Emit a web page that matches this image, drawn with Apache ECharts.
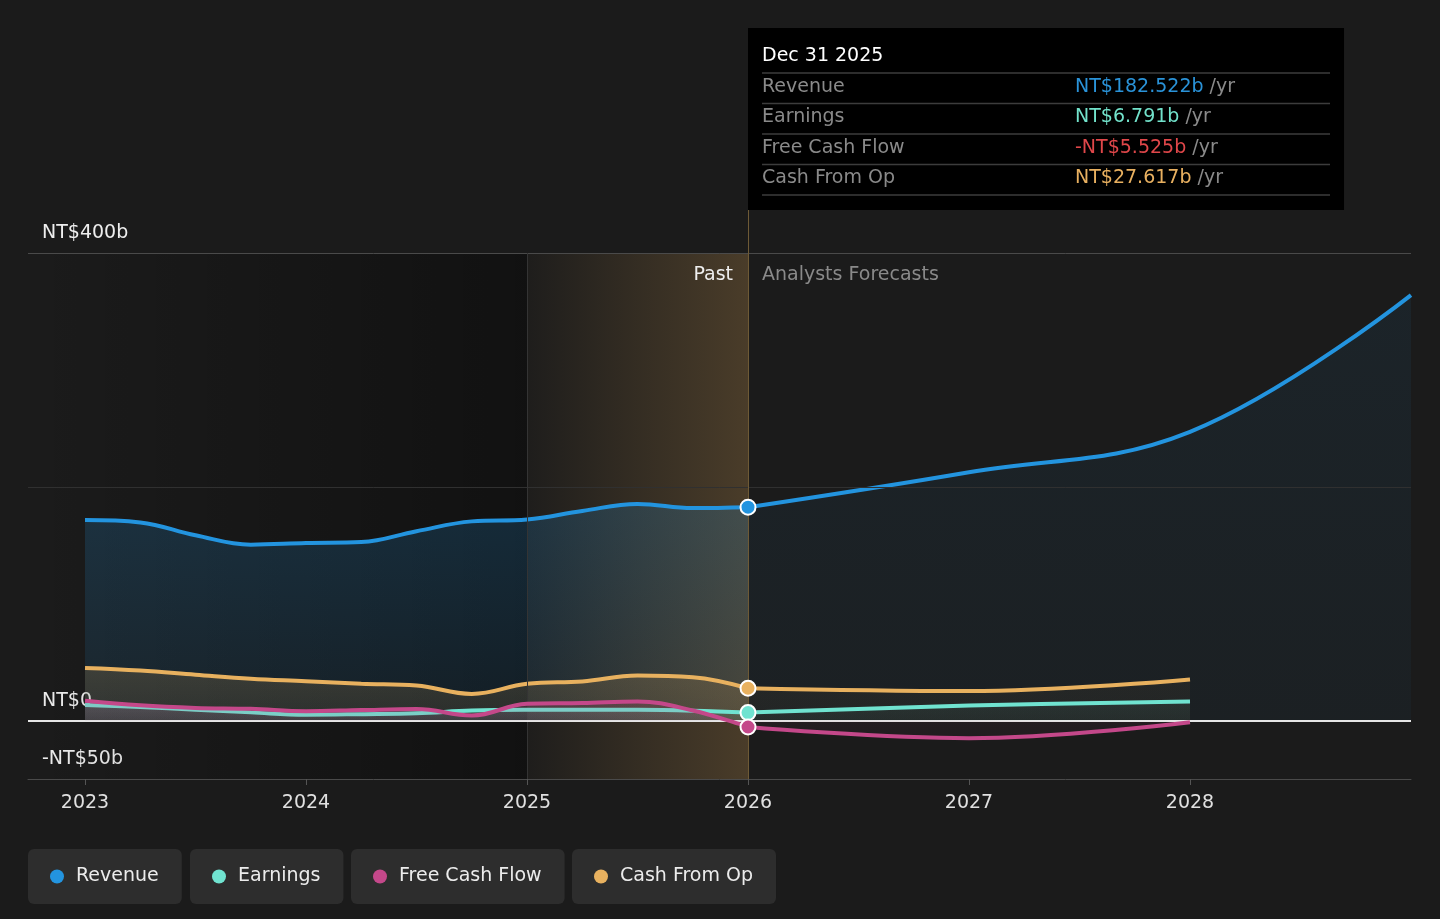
<!DOCTYPE html>
<html>
<head>
<meta charset="utf-8">
<script src="https://cdn.jsdelivr.net/npm/echarts@6/dist/echarts.min.js"></script>
<style>
html,body{margin:0;padding:0;background:#1b1b1b;}
#chart{width:1440px;height:919px;}
</style>
</head>
<body>
<div id="chart"></div>
<script>
// ---------- DATA ----------
const pastYears = [2023, 2023.25, 2023.5, 2023.75, 2024, 2024.25, 2024.5, 2024.75, 2025, 2025.25, 2025.5, 2025.75, 2026];
const revenuePast  = [171.5, 169.5, 158.5, 150.5, 151.9, 152.7, 162, 170.4, 172, 179.3, 185.3, 181.8, 182.522];
const earningsPast = [13.4, 11.5, 9.3, 7, 5, 5.5, 6.3, 8.5, 9.2, 9.3, 9.2, 8.4, 6.791];
const fcfPast      = [17, 13, 10.8, 10, 8, 9, 9.8, 4.3, 14.3, 15, 16.3, 8.6, -5.525];
const cfoPast      = [45, 42.8, 39.2, 35.7, 33.7, 31.5, 30, 22.8, 31.4, 33.5, 38.5, 37, 27.617];

const revenueForecastYears = [2026, 2027, 2028, 2029];
const revenueForecast = [182.522, 212.5, 247, 364];
const forecastYears = [2026, 2027, 2028];
const earningsForecast = [6.791, 12.8, 16.3];
const fcfForecast      = [-5.525, -15.1, -1.5];
const cfoForecast      = [27.617, 25.2, 35.1];

const seriesNames = ['Revenue', 'Earnings', 'Free Cash Flow', 'Cash From Op'];
const xTickYears = [2023, 2024, 2025, 2026, 2027, 2028];
const yTickValues = [-50, 0, 400];
const gridValues = [400, 200];
const xMin = 2022.742, xMax = 2029;
const pastStart = 2025, forecastStart = 2026;
const tooltipDate = 'Dec 31 2025';

// ---------- STYLE ----------
const FONT = 'DejaVu Sans';
const colors = {
  'Revenue': '#2394df',
  'Earnings': '#70e3d0',
  'Free Cash Flow': '#c4488a',
  'Cash From Op': '#e8b15f'
};
const tipValueColors = {
  'Revenue': '#2a93d9',
  'Earnings': '#72e2cb',
  'Free Cash Flow': '#e0474a',
  'Cash From Op': '#e8b060'
};
const rgb = {
  'Revenue': '35,148,223',
  'Earnings': '112,227,208',
  'Free Cash Flow': '196,72,138',
  'Cash From Op': '232,177,95'
};

function zip(xs, ys) { return xs.map((x, i) => [x, ys[i]]); }
function vgrad(c, a1, a2) {
  return new echarts.graphic.LinearGradient(0, 0, 0, 1, [
    { offset: 0, color: 'rgba(' + c + ',' + a1 + ')' },
    { offset: 1, color: 'rgba(' + c + ',' + a2 + ')' }
  ]);
}
function fmt(v) { return (v < 0 ? '-' : '') + 'NT$' + Math.abs(v).toFixed(3) + 'b'; }

const pastData = {
  'Revenue': revenuePast, 'Earnings': earningsPast,
  'Free Cash Flow': fcfPast, 'Cash From Op': cfoPast
};
const forecastData = {
  'Revenue': zip(revenueForecastYears, revenueForecast),
  'Earnings': zip(forecastYears, earningsForecast),
  'Free Cash Flow': zip(forecastYears, fcfForecast),
  'Cash From Op': zip(forecastYears, cfoForecast)
};
const pastAlpha = {
  'Revenue': [0.28, 0.13], 'Earnings': [0.22, 0.12],
  'Free Cash Flow': [0.25, 0.12], 'Cash From Op': [0.24, 0.14]
};
const foreAlpha = {
  'Revenue': [0.1, 0.06], 'Earnings': [0.1, 0.06],
  'Free Cash Flow': [0.08, 0.05], 'Cash From Op': [0.07, 0.05]
};
const drawOrder = ['Revenue', 'Cash From Op', 'Earnings', 'Free Cash Flow'];

const series = [];
drawOrder.forEach((name, idx) => {
  const base = {
    name: name, type: 'line', smooth: 0.4, symbol: 'none', silent: true,
    lineStyle: { width: 4, color: colors[name] },
    itemStyle: { color: colors[name] },
    z: 3 + idx
  };
  const past = Object.assign({}, base, {
    data: zip(pastYears, pastData[name]),
    areaStyle: { color: vgrad(rgb[name], pastAlpha[name][0], pastAlpha[name][1]) }
  });
  if (name === 'Revenue') {
    past.markArea = {
      silent: true,
      data: [
        [{ xAxis: xMin, itemStyle: { color: new echarts.graphic.LinearGradient(0, 0, 1, 0, [
            { offset: 0, color: 'rgba(0,0,0,0)' }, { offset: 1, color: 'rgba(0,0,0,0.36)' }]) } },
         { xAxis: pastStart }],
        [{ xAxis: pastStart, itemStyle: { color: new echarts.graphic.LinearGradient(0, 0, 1, 0, [
            { offset: 0, color: 'rgba(200,150,80,0.02)' }, { offset: 1, color: 'rgba(200,150,80,0.27)' }]) } },
         { xAxis: forecastStart }]
      ]
    };
    past.markLine = {
      silent: true, symbol: 'none', label: { show: false },
      data: [
        { yAxis: gridValues[0], lineStyle: { color: '#4a4a4a', width: 1, type: 'solid' } },
        { yAxis: gridValues[1], lineStyle: { color: '#303030', width: 1, type: 'solid' } },
        { xAxis: pastStart, lineStyle: { color: '#343434', width: 1, type: 'solid' } },
        { xAxis: forecastStart, lineStyle: { color: '#6e5a36', width: 1, type: 'solid' } },
        { yAxis: 0, lineStyle: { color: '#e6e6e6', width: 2, type: 'solid' } }
      ]
    };
  }
  const fore = Object.assign({}, base, {
    data: forecastData[name],
    areaStyle: { color: vgrad(rgb[name], foreAlpha[name][0], foreAlpha[name][1]) }
  });
  series.push(past, fore);
});
seriesNames.forEach(name => {
  const arr = pastData[name];
  series.push({
    name: name, type: 'scatter', silent: true, z: 20,
    symbol: 'circle', symbolSize: 15,
    itemStyle: { color: colors[name], borderColor: '#ffffff', borderWidth: 2, opacity: 1 },
    data: [[pastYears[pastYears.length - 1], arr[arr.length - 1]]]
  });
});

const legendLefts = [28, 190, 351, 572];
const legends = seriesNames.map((n, i) => ({
  data: [n], left: legendLefts[i], top: 849, orient: 'horizontal',
  icon: 'circle', itemWidth: 28, itemHeight: 14, itemGap: 0,
  padding: [17, 23, 17, 22], backgroundColor: '#2d2d2d', borderRadius: 6,
  textStyle: { color: '#ececec', fontSize: 19, fontFamily: FONT, lineHeight: 21 }
}));

const chart = echarts.init(document.getElementById('chart'), null, { renderer: 'canvas' });
chart.setOption({
  backgroundColor: '#1b1b1b',
  animation: false,
  tooltip: { show: false },
  legend: legends,
  grid: { left: 28, right: 29, top: 253, bottom: 140 },
  xAxis: {
    type: 'value', min: xMin, max: xMax,
    splitLine: { show: false },
    axisLine: { show: true, onZero: false, lineStyle: { color: '#4a4a4a', width: 1 } },
    axisTick: { show: true, customValues: xTickYears, length: 6, lineStyle: { color: '#555' } },
    axisLabel: { customValues: xTickYears, color: '#e0e0e0', fontSize: 19, fontFamily: FONT, margin: 15,
      formatter: v => String(Math.round(v)) }
  },
  yAxis: {
    type: 'value', min: -50, max: 400,
    splitLine: { show: false },
    axisLine: { show: false }, axisTick: { show: false },
    axisLabel: {
      customValues: yTickValues, inside: true, margin: 14, verticalAlign: 'bottom',
      padding: [0, 0, 10, 0], color: '#eeeeee', fontSize: 19, fontFamily: FONT,
      formatter: v => (v < 0 ? '-NT$' + Math.abs(v) + 'b' : (v === 0 ? 'NT$0' : 'NT$' + v + 'b'))
    }
  },
  series: series
});

// ---------- tooltip-like panel and headers ----------
const pTop = chart.convertToPixel({ xAxisIndex: 0, yAxisIndex: 0 }, [forecastStart, 400]);
const tx = pTop[0];
const boxTop = 28, boxW = 596, boxH = 182;
const graphics = [
  { type: 'rect', silent: true, shape: { x: tx, y: boxTop, width: boxW, height: boxH }, style: { fill: '#000000' }, z: 50 },
  { type: 'line', silent: true, shape: { x1: tx + 0.5, y1: boxTop + boxH, x2: tx + 0.5, y2: pTop[1] }, style: { stroke: '#6e5a36', lineWidth: 1 }, z: 50 },
  { type: 'text', silent: true, x: tx + 14, y: boxTop + 28, z: 51,
    style: { text: tooltipDate, fill: '#ffffff', font: '19px "DejaVu Sans"', verticalAlign: 'middle' } },
  { type: 'text', silent: true, x: tx - 15, y: pTop[1] + 22, z: 51,
    style: { text: 'Past', fill: '#eeeeee', font: '19px "DejaVu Sans"', align: 'right', verticalAlign: 'middle' } },
  { type: 'text', silent: true, x: tx + 14, y: pTop[1] + 22, z: 51,
    style: { text: 'Analysts Forecasts', fill: '#8a8a8a', font: '19px "DejaVu Sans"', align: 'left', verticalAlign: 'middle' } }
];
const rowStart = boxTop + 45, rowH = 30.5;
seriesNames.forEach((name, i) => {
  const y0 = rowStart + i * rowH;
  const arr = pastData[name];
  graphics.push({ type: 'line', silent: true, z: 51,
    shape: { x1: tx + 14, y1: y0, x2: tx + boxW - 14, y2: y0 }, style: { stroke: '#3c3c3c', lineWidth: 1.5 } });
  graphics.push({ type: 'text', silent: true, x: tx + 14, y: y0 + 14, z: 51,
    style: { text: name, fill: '#8a8a8a', font: '19px "DejaVu Sans"', verticalAlign: 'middle' } });
  graphics.push({ type: 'text', silent: true, x: tx + 327, y: y0 + 14, z: 51,
    style: {
      text: '{v|' + fmt(arr[arr.length - 1]) + '}{u| /yr}', verticalAlign: 'middle',
      rich: {
        v: { fill: tipValueColors[name], font: '19px "DejaVu Sans"' },
        u: { fill: '#8a8a8a', font: '19px "DejaVu Sans"' }
      }
    } });
});
const yLast = rowStart + seriesNames.length * rowH;
graphics.push({ type: 'line', silent: true, z: 51,
  shape: { x1: tx + 14, y1: yLast, x2: tx + boxW - 14, y2: yLast }, style: { stroke: '#3c3c3c', lineWidth: 1.5 } });

chart.setOption({ graphic: graphics });
</script>
</body>
</html>
